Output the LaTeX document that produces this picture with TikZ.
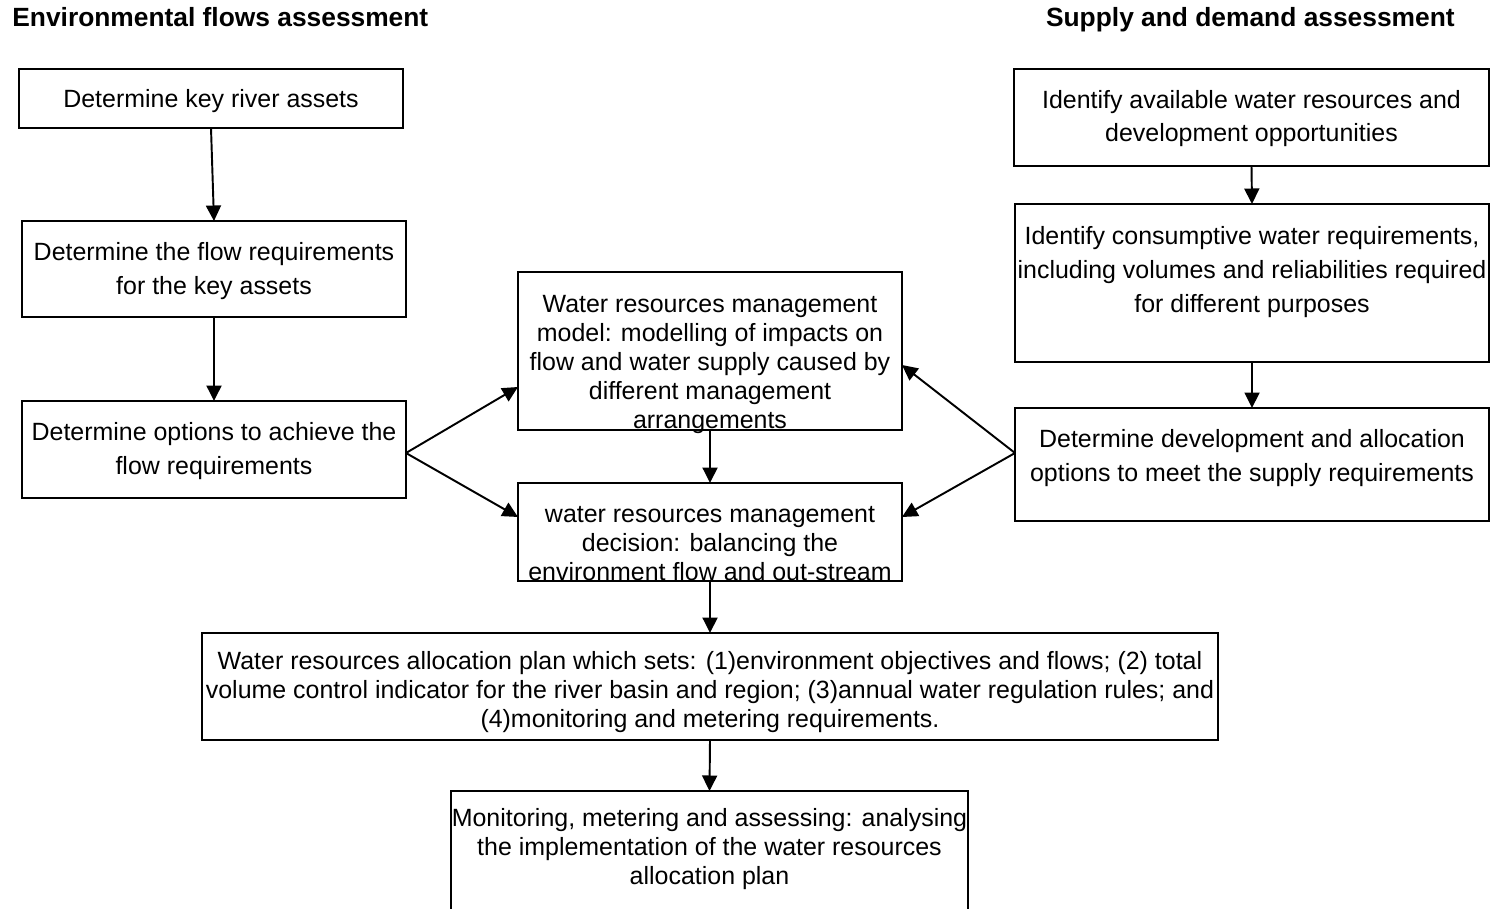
\documentclass[tikz,border=0pt]{standalone}
\usepackage{fontspec}
\setmainfont{Liberation Sans}
\usetikzlibrary{arrows.meta}
\begin{document}
\begin{tikzpicture}[x=0.02cm,y=-0.02cm,
  box/.style 2 args={draw, line width=1.1pt, inner sep=0pt, outer sep=0pt,
    anchor=north west, minimum width=#1*0.02cm, minimum height=#2*0.02cm},
  txt/.style={align=center, inner sep=0pt, anchor=base,
    font=\fontsize{14.2}{19.35}\selectfont},
  tight/.style={font=\fontsize{14.2}{16.5}\selectfont},
  head/.style={inner sep=0pt, font=\fontsize{15}{18}\selectfont\bfseries},
  flow/.style={line width=1.1pt, -{Triangle[length=0.31cm,width=0.3cm]}}]
\clip (0,0) rectangle (1495,909);

% column headings
\node[head, anchor=base west] (hleft) at (12,27) {Environmental flows assessment};
\node[head, anchor=base east] (hright) at (1455,27) {Supply and demand assessment};

% texts (anchored at the baseline of their last line)
\node[txt] (b1t) at (211,108) {Determine key river assets};
\node[txt] (b2t) at (214,294) {Determine the flow requirements\\for the key assets};
\node[txt] (b3t) at (214,474) {Determine options to achieve the\\flow requirements};
\node[txt, tight] (m1t) at (710,428) {Water resources management\\model: modelling of impacts on\\flow and water supply caused by\\different management\\arrangements};
\node[txt, tight] (m2t) at (710,580) {water resources management\\decision: balancing the\\environment flow and out-stream};
\node[txt] (r1t) at (1251.5,142) {Identify available water resources and\\development opportunities};
\node[txt] (r2t) at (1252,312) {Identify consumptive water requirements,\\including volumes and reliabilities required\\for different purposes};
\node[txt] (r3t) at (1252,481) {Determine development and allocation\\options to meet the supply requirements};
\node[txt, tight] (alt) at (710,727) {Water resources allocation plan which sets: (1)environment objectives and flows; (2) total\\volume control indicator for the river basin and region; (3)annual water regulation rules; and\\(4)monitoring and metering requirements.};
\node[txt, font=\fontsize{14.2}{16.3}\selectfont] (mot) at (709.5,884) {Monitoring, metering and assessing: analysing\\the implementation of the water resources\\allocation plan};

% boxes
\node[box={384}{59}]  (b1) at (19,69) {};
\node[box={384}{96}]  (b2) at (22,221) {};
\node[box={384}{97}]  (b3) at (22,401) {};
\node[box={384}{158}] (m1) at (518,272) {};
\node[box={384}{98}]  (m2) at (518,483) {};
\node[box={475}{97}]  (r1) at (1014,69) {};
\node[box={474}{158}] (r2) at (1015,204) {};
\node[box={474}{113}] (r3) at (1015,408) {};
\node[box={1016}{107}] (al) at (202,633) {};
\node[box={517}{140}] (mo) at (451,791) {};

% connectors
\draw[flow] (b1.south) -- (b2.north);
\draw[flow] (b2.south) -- (b3.north);
\draw[flow] ([yshift=-0.07cm]b3.east) -- ([yshift=-0.72cm]m1.west);
\draw[flow] ([yshift=-0.07cm]b3.east) -- ([yshift=0.3cm]m2.west);
\draw[flow] (r1.south) -- (r2.north);
\draw[flow] (r2.south) -- (r3.north);
\draw[flow] ([yshift=0.23cm]r3.west) -- ([yshift=-0.28cm]m1.east);
\draw[flow] ([yshift=0.23cm]r3.west) -- ([yshift=0.3cm]m2.east);
\draw[flow] (m1.south) -- (m2.north);
\draw[flow] (m2.south) -- (al.north);
\draw[flow] (al.south) -- (mo.north);
\end{tikzpicture}
\end{document}
